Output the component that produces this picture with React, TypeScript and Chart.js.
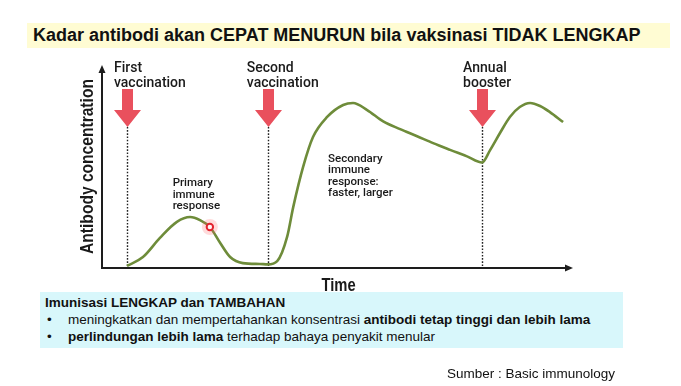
import React, { useEffect, useRef } from "react";
import { Chart, registerables } from "chart.js";

Chart.register(...registerables);

// ---- data (time in arbitrary units 0-100, antibody level 0-100) ----
const time = [5.3, 8.7, 12.3, 15.9, 18.7, 20.8, 22.9, 25.1, 27.2, 29.9, 33.5, 35.2, 37.2, 39.3, 40.6, 42.7, 44.8, 47.8, 51.2, 53.3, 56.3, 59.7, 63.3, 66.9, 70.3, 73.9, 77.5, 80.7, 82.4, 84.5, 86.6, 88.7, 90.9, 93.0, 95.1, 97.9];
const concentration = [1.0, 5.4, 14.8, 22.7, 25.1, 23.6, 20.2, 12.3, 5.4, 2.4, 2.0, 1.8, 3.4, 15.3, 30.0, 49.8, 64.5, 74.4, 80.3, 81.3, 77.8, 72.2, 68.4, 64.9, 61.5, 58.2, 55.0, 52.0, 58.1, 66.5, 74.4, 79.3, 81.3, 79.8, 76.8, 71.9];

const eventTimes = [5.3, 35.2, 80.7];
const eventLevel = 69.5; // where the dotted line starts (arrow tip)
const eventLabels = [["First", "vaccination"], ["Second", "vaccination"], ["Annual", "booster"]];

const markerTime = [22.9];
const markerLevel = [20.2];

const primaryNote = ["Primary", "immune", "response"];
const secondaryNote = ["Secondary", "immune", "response:", "faster, larger"];

const yTitle = "Antibody concentration";
const xTitle = "Time";

const pageTitle = "Kadar antibodi akan CEPAT MENURUN bila vaksinasi TIDAK LENGKAP";
const boxHeading = "Imunisasi LENGKAP dan TAMBAHAN";
const source = "Sumber : Basic immunology";

const SANS = '"Liberation Sans", Arial, sans-serif';
const LABEL = 'Roboto, "Liberation Sans", Arial, sans-serif';

const overlay = {
  id: "overlay",
  beforeDatasetsDraw(chart: any) {
    const { ctx, chartArea: a, scales } = chart;
    const x = scales.x;
    const y = scales.y;
    ctx.save();
    // axes
    ctx.strokeStyle = "#1d1d1d";
    ctx.fillStyle = "#1d1d1d";
    ctx.lineWidth = 2;
    ctx.beginPath();
    ctx.moveTo(a.left, a.bottom);
    ctx.lineTo(a.left, a.top + 6);
    ctx.moveTo(a.left - 1, a.bottom);
    ctx.lineTo(a.right - 6, a.bottom);
    ctx.stroke();
    ctx.beginPath();
    ctx.moveTo(a.left, a.top);
    ctx.lineTo(a.left - 3.5, a.top + 8);
    ctx.lineTo(a.left + 3.5, a.top + 8);
    ctx.closePath();
    ctx.fill();
    ctx.beginPath();
    ctx.moveTo(a.right, a.bottom);
    ctx.lineTo(a.right - 8, a.bottom - 3.5);
    ctx.lineTo(a.right - 8, a.bottom + 3.5);
    ctx.closePath();
    ctx.fill();

    // dotted event lines + red arrows
    const tipY = y.getPixelForValue(eventLevel);
    eventTimes.forEach((t) => {
      const xp = Math.round(x.getPixelForValue(t)) + 0.5;
      ctx.save();
      ctx.strokeStyle = "#222";
      ctx.lineWidth = 1.4;
      ctx.setLineDash([1.6, 1.6]);
      ctx.beginPath();
      ctx.moveTo(xp, tipY);
      ctx.lineTo(xp, a.bottom);
      ctx.stroke();
      ctx.restore();

      ctx.fillStyle = "#e9505d";
      ctx.beginPath();
      ctx.moveTo(xp - 5.5, tipY - 38);
      ctx.lineTo(xp + 5.5, tipY - 38);
      ctx.lineTo(xp + 5.5, tipY - 17);
      ctx.lineTo(xp + 13.5, tipY - 17);
      ctx.lineTo(xp, tipY);
      ctx.lineTo(xp - 13.5, tipY - 17);
      ctx.lineTo(xp - 5.5, tipY - 17);
      ctx.closePath();
      ctx.fill();
    });
    ctx.restore();
  },
  afterDatasetsDraw(chart: any) {
    const { ctx, chartArea: a, scales } = chart;
    const x = scales.x;
    const y = scales.y;
    ctx.save();
    ctx.fillStyle = "#1a1a1a";
    ctx.textBaseline = "alphabetic";

    // event labels
    const offsets = [-13, -21, -19];
    ctx.font = `500 14px ${LABEL}`;
    ctx.textAlign = "left";
    eventTimes.forEach((t, i) => {
      const xp = x.getPixelForValue(t) + offsets[i];
      ctx.fillText(eventLabels[i][0], xp, a.top + 7);
      ctx.fillText(eventLabels[i][1], xp, a.top + 22);
    });

    // notes
    ctx.font = `500 11.5px ${LABEL}`;
    const pX = x.getPixelForValue(15.0);
    const pY = y.getPixelForValue(40.3);
    primaryNote.forEach((s, i) => ctx.fillText(s, pX, pY + i * 11.4));
    const sX = x.getPixelForValue(48.0);
    const sY = y.getPixelForValue(52.4);
    secondaryNote.forEach((s, i) => ctx.fillText(s, sX, sY + i * 11.5));

    // axis titles (condensed bold)
    ctx.textAlign = "center";
    ctx.save();
    ctx.font = `bold 18px ${SANS}`;
    ctx.translate((a.left + a.right) / 2 + 1, a.bottom + 23);
    ctx.scale(0.82, 1);
    ctx.fillText(xTitle, 0, 0);
    ctx.restore();

    ctx.save();
    ctx.font = `bold 19px ${SANS}`;
    ctx.translate(a.left - 14, (a.top + a.bottom) / 2);
    ctx.rotate(-Math.PI / 2);
    ctx.scale(0.82, 1);
    ctx.textBaseline = "middle";
    ctx.fillText(yTitle, 0, 0);
    ctx.restore();

    ctx.restore();
  },
};

export default function App() {
  const ref = useRef<HTMLCanvasElement>(null);
  useEffect(() => {
    const chart = new Chart(ref.current as HTMLCanvasElement, {
      type: "line",
      data: {
        datasets: [
          {
            data: markerTime.map((t, i) => ({ x: t, y: markerLevel[i] })),
            showLine: false,
            pointRadius: 3.2,
            pointBorderWidth: 2,
            pointBorderColor: "#e3242f",
            pointBackgroundColor: "#fff4f4",
            order: 0,
          },
          {
            data: markerTime.map((t, i) => ({ x: t, y: markerLevel[i] })),
            showLine: false,
            pointRadius: 8,
            pointBorderWidth: 0,
            pointBackgroundColor: "rgba(255,90,90,0.22)",
            order: 1,
          },
          {
            data: time.map((t, i) => ({ x: t, y: concentration[i] })),
            borderColor: "#6e8c3a",
            borderWidth: 2.6,
            pointRadius: 0,
            cubicInterpolationMode: "monotone",
            fill: false,
            order: 2,
          },
        ],
      },
      options: {
        animation: false,
        responsive: false,
        events: [],
        layout: { padding: { left: 102, right: 108, top: 65, bottom: 118 } },
        scales: {
          x: { type: "linear", min: 0, max: 100, display: false },
          y: { type: "linear", min: 0, max: 100, display: false },
        },
        plugins: { legend: { display: false }, tooltip: { enabled: false } },
      },
      plugins: [overlay],
    } as any);
    return () => chart.destroy();
  }, []);

  return (
    <div style={{ position: "absolute", left: 0, top: 0, width: 681, height: 386, background: "#fff", overflow: "hidden", fontFamily: SANS, color: "#111" }}>
      <div
        style={{
          position: "absolute", left: 27, top: 23, width: 643, height: 25, background: "#fffcd3",
          fontWeight: "bold", fontSize: 18, lineHeight: "24px", paddingLeft: 6, boxSizing: "border-box", whiteSpace: "nowrap",
        }}
      >
        {pageTitle}
      </div>
      <canvas ref={ref} width={681} height={386} style={{ position: "absolute", left: 0, top: 0 }} />
      <div
        style={{
          position: "absolute", left: 40, top: 292, width: 583, height: 56, background: "#d8f7fb",
          fontSize: 13.5, lineHeight: "17px", paddingLeft: 5, paddingTop: 2, boxSizing: "border-box", whiteSpace: "nowrap",
        }}
      >
        <div style={{ fontWeight: "bold" }}>{boxHeading}</div>
        <div>
          <span style={{ display: "inline-block", width: 21, paddingLeft: 2 }}>•</span>
          meningkatkan dan mempertahankan konsentrasi <b>antibodi tetap tinggi dan lebih lama</b>
        </div>
        <div>
          <span style={{ display: "inline-block", width: 21, paddingLeft: 2 }}>•</span>
          <b>perlindungan lebih lama</b> terhadap bahaya penyakit menular
        </div>
      </div>
      <div style={{ position: "absolute", left: 447, top: 365, fontSize: 13.5, lineHeight: "17px", whiteSpace: "nowrap" }}>{source}</div>
    </div>
  );
}
